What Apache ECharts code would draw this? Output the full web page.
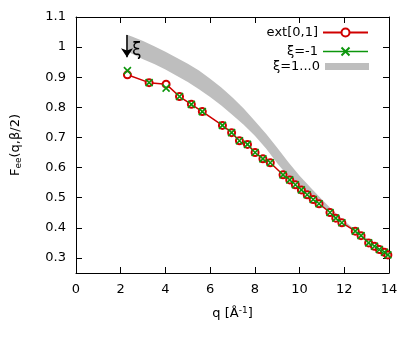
<!DOCTYPE html>
<html>
<head>
<meta charset="utf-8">
<script src="https://cdn.jsdelivr.net/npm/echarts@6/dist/echarts.min.js"></script>
<style>
  html, body { margin: 0; padding: 0; background: #fff; }
  #chart { width: 414px; height: 343px; }
</style>
</head>
<body>
<div id="chart"></div>
<script>
(function () {
    const FONT = 'DejaVu Sans';
    const RED = '#d00000';
    const GREEN = '#0c960c';
    const GREY = '#bebebe';

    // q values of the data points
    const qVals = [2.30, 3.27, 4.03, 4.63, 5.16, 5.65, 6.55, 6.96, 7.31, 7.67,
        8.01, 8.36, 8.69, 9.26, 9.56, 9.81, 10.08, 10.34, 10.61, 10.87,
        11.36, 11.62, 11.89, 12.49, 12.75, 13.09, 13.35, 13.57, 13.80, 13.95];
    // ext[0,1]
    const extVals = [0.908, 0.882, 0.877, 0.836, 0.810, 0.786, 0.740, 0.716, 0.689, 0.677,
        0.650, 0.629, 0.616, 0.576, 0.559, 0.543, 0.526, 0.510, 0.494, 0.480,
        0.451, 0.432, 0.417, 0.389, 0.374, 0.350, 0.339, 0.328, 0.319, 0.310];
    // xi = -1
    const xiVals = [0.922, 0.882, 0.864, 0.836, 0.810, 0.786, 0.740, 0.716, 0.689, 0.677,
        0.650, 0.629, 0.616, 0.576, 0.559, 0.543, 0.526, 0.510, 0.494, 0.480,
        0.451, 0.432, 0.417, 0.389, 0.374, 0.350, 0.339, 0.328, 0.319, 0.310];
    // xi = 1...0 band, read every 0.5 along q
    const bandQ = [2.25, 2.5, 3, 3.5, 4, 4.5, 5, 5.5, 6, 6.5, 7, 7.5, 8, 8.5,
        9, 9.5, 10, 10.5, 11, 11.5, 12, 12.5, 13, 13.5, 14];
    const bandHigh = [1.042, 1.035, 1.020, 1.003, 0.985, 0.965, 0.945, 0.922, 0.895, 0.866,
        0.833, 0.796, 0.755, 0.712, 0.666, 0.618, 0.573, 0.533, 0.494, 0.457,
        0.423, 0.393, 0.365, 0.340, 0.316];
    const bandLow = [0.988, 0.978, 0.960, 0.944, 0.926, 0.905, 0.884, 0.860, 0.834, 0.806,
        0.775, 0.742, 0.706, 0.663, 0.614, 0.570, 0.534, 0.501, 0.471, 0.442,
        0.413, 0.385, 0.357, 0.333, 0.311];

    const yTicks = [0.3, 0.4, 0.5, 0.6, 0.7, 0.8, 0.9, 1, 1.1];

    // arrow annotation
    const arrowQ = 2.28;
    const arrowFrom = 1.04;
    const arrowTo = 0.966;

    const txt = { fontFamily: FONT, fontSize: 13, color: '#000' };

    function xAx(pos, show) {
        return {
            type: 'value', position: pos, min: 0, max: 14, interval: 2,
            axisLine: { show: true, onZero: false, lineStyle: { color: '#000', width: 1 } },
            axisTick: { inside: true, length: 6, lineStyle: { color: '#000' } },
            axisLabel: Object.assign({ show: show, margin: 10 }, txt),
            splitLine: { show: false }
        };
    }
    function yAx(pos, show) {
        return {
            type: 'value', position: pos, min: 0.25, max: 1.1,
            axisLine: { show: true, onZero: false, lineStyle: { color: '#000', width: 1 } },
            axisTick: { inside: true, length: 6, customValues: yTicks, lineStyle: { color: '#000' } },
            axisLabel: Object.assign({ show: show, margin: 10, customValues: yTicks }, txt),
            splitLine: { show: false }
        };
    }

    const xMain = xAx('bottom', true);
    xMain.name = '{n|q [Å}{sup|-1}{n|]}';
    xMain.nameLocation = 'middle';
    xMain.nameGap = 33;
    xMain.nameTextStyle = {
        rich: {
            n: { fontFamily: FONT, fontSize: 13, color: '#000' },
            sup: { fontFamily: FONT, fontSize: 9, color: '#000', padding: [0, 0, 7, 0] }
        }
    };
    const yMain = yAx('left', true);
    yMain.name = '{n|F}{sub|ee}{n|(q,β/2)}';
    yMain.nameLocation = 'middle';
    yMain.nameGap = 53;
    yMain.nameTextStyle = {
        rich: {
            n: { fontFamily: FONT, fontSize: 13, color: '#000' },
            sub: { fontFamily: FONT, fontSize: 9, color: '#000', padding: [6, 0, 0, 0] }
        }
    };

    const option = {
        animation: false,
        backgroundColor: '#fff',
        grid: { left: 76, right: 25, top: 17, bottom: 70, containLabel: false },
        legend: [
            {
                data: [
                    { name: 'ext[0,1]' },
                    { name: 'ξ=-1', lineStyle: { color: GREEN, width: 1.5, opacity: 1 } }
                ],
                orient: 'vertical', right: 45, top: 26, padding: 0,
                itemWidth: 45, itemHeight: 10, itemGap: 6, align: 'right',
                selectedMode: false, textStyle: txt
            },
            {
                data: [{ name: 'ξ=1...0', icon: 'rect' }],
                orient: 'vertical', right: 45, top: 60, padding: 0,
                itemWidth: 44, itemHeight: 7, align: 'right',
                selectedMode: false, textStyle: txt
            }
        ],
        xAxis: [xMain, xAx('top', false)],
        yAxis: [yMain, yAx('right', false)],
        series: [
            {
                name: 'ξ=1...0',
                type: 'custom',
                z: 1,
                itemStyle: { color: GREY },
                data: bandQ.map(function (q, i) { return [q, bandLow[i], bandHigh[i]]; }),
                encode: { x: 0, y: [1, 2] },
                renderItem: function (params, api) {
                    if (params.dataIndex !== 0) return;
                    const pts = [];
                    for (let i = 0; i < bandQ.length; i++) pts.push(api.coord([bandQ[i], bandHigh[i]]));
                    for (let i = bandQ.length - 1; i >= 0; i--) pts.push(api.coord([bandQ[i], bandLow[i]]));
                    return { type: 'polygon', shape: { points: pts }, style: { fill: GREY } };
                }
            },
            {
                name: 'ext[0,1]',
                type: 'line',
                z: 2,
                data: qVals.map(function (q, i) { return [q, extVals[i]]; }),
                symbol: 'emptyCircle',
                symbolSize: 7,
                lineStyle: { color: RED, width: 1.5 },
                itemStyle: { color: RED, borderColor: RED, borderWidth: 1.5 },
                markLine: {
                    silent: true,
                    symbol: ['none', 'arrow'],
                    symbolSize: 9,
                    lineStyle: { color: '#000', width: 1.5, type: 'solid' },
                    label: { show: false },
                    data: [[{ coord: [arrowQ, arrowFrom] }, { coord: [arrowQ, arrowTo] }]]
                },
                markPoint: {
                    silent: true,
                    symbol: 'circle',
                    symbolSize: 0,
                    label: { show: true, position: 'inside', formatter: 'ξ', fontFamily: FONT, fontSize: 17, color: '#000' },
                    data: [{ coord: [2.72, 0.99] }]
                }
            },
            {
                name: 'ξ=-1',
                type: 'line',
                z: 3,
                data: qVals.map(function (q, i) { return [q, xiVals[i]]; }),
                symbol: 'path://M0,0L10,10M10,0L0,10',
                symbolSize: 7,
                lineStyle: { opacity: 0 },
                itemStyle: { color: GREEN, borderColor: GREEN, borderWidth: 1.6 }
            }
        ]
    };

    const myChart = echarts.init(document.getElementById('chart'));
    myChart.setOption(option);
}());
</script>
</body>
</html>
